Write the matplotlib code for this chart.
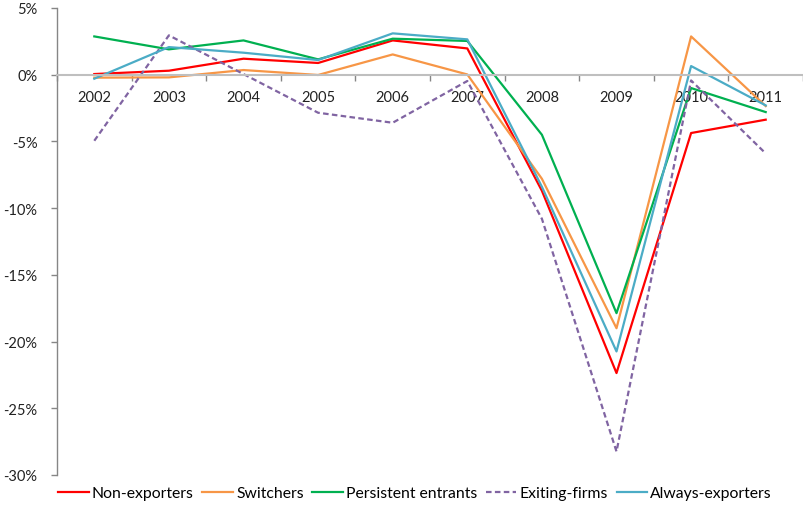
import matplotlib.pyplot as plt
from matplotlib.ticker import FuncFormatter, FixedLocator
import numpy as np

plt.rcParams['font.family'] = ['Lato', 'DejaVu Sans']

years = ['2002', '2003', '2004', '2005', '2006', '2007', '2008', '2009', '2010', '2011']

# growth rates, in %
non_exporters = [0.05, 0.3, 1.2, 0.88, 2.57, 1.97, -8.7, -22.36, -4.37, -3.37]
switchers = [-0.22, -0.2, 0.35, -0.02, 1.52, 0.02, -7.8, -19.0, 2.87, -2.35]
persistent_entrants = [2.87, 1.9, 2.57, 1.15, 2.7, 2.53, -4.5, -17.87, -1.0, -2.8]
exiting_firms = [-4.95, 2.95, 0.05, -2.85, -3.6, -0.47, -10.8, -28.24, -0.43, -5.9]
always_exporters = [-0.3, 2.07, 1.65, 1.1, 3.1, 2.65, -8.4, -20.74, 0.65, -2.3]

fig = plt.figure(figsize=(8.04, 5.06), dpi=100)
ax = fig.add_axes([57/804, 30/506, 746/804, 467/506])

x = np.arange(len(years))
lw = 1.6
ax.plot(x, non_exporters, color='#FF0000', lw=lw, label='Non-exporters')
ax.plot(x, switchers, color='#F79646', lw=lw, label='Switchers')
ax.plot(x, persistent_entrants, color='#00B050', lw=lw, label='Persistent entrants')
ax.plot(x, exiting_firms, color='#8064A2', lw=lw, dashes=(2.5, 1.5), label='Exiting-firms')
ax.plot(x, always_exporters, color='#4BACC6', lw=lw, label='Always-exporters')

ax.set_xlim(-0.5, len(years) - 0.5)
ax.set_ylim(-30, 5)

for s in ['top', 'right']:
    ax.spines[s].set_visible(False)
ax.spines['bottom'].set_position(('data', 0))
ax.spines['bottom'].set_color('#BFBFBF')
ax.spines['bottom'].set_linewidth(1.5)
ax.spines['left'].set_color('#868686')
ax.spines['left'].set_linewidth(1.0)

ax.set_xticks(x)
ax.set_xticklabels(years)
ax.xaxis.set_minor_locator(FixedLocator(np.arange(-0.5, len(years), 1.0)))
ax.tick_params(axis='x', which='major', length=0, pad=11, labelsize=10.5, colors='#222222')
ax.tick_params(axis='x', which='minor', length=4, direction='out', color='#868686', width=1)

ax.set_yticks(np.arange(-30, 6, 5))
ax.yaxis.set_major_formatter(FuncFormatter(lambda v, p: '%d%%' % v))
ax.tick_params(axis='y', length=4, direction='out', color='#868686', width=1, pad=10,
               labelsize=10.5)
for t in ax.get_yticklabels():
    t.set_color('#222222')

fig.legend(loc='center', bbox_to_anchor=(415/804, 1 - 494/506), ncol=5, frameon=False,
           fontsize=11.3, handlelength=1.95, handletextpad=0.2, columnspacing=0.55,
           borderaxespad=0)

fig.savefig('out.png', dpi=100)
